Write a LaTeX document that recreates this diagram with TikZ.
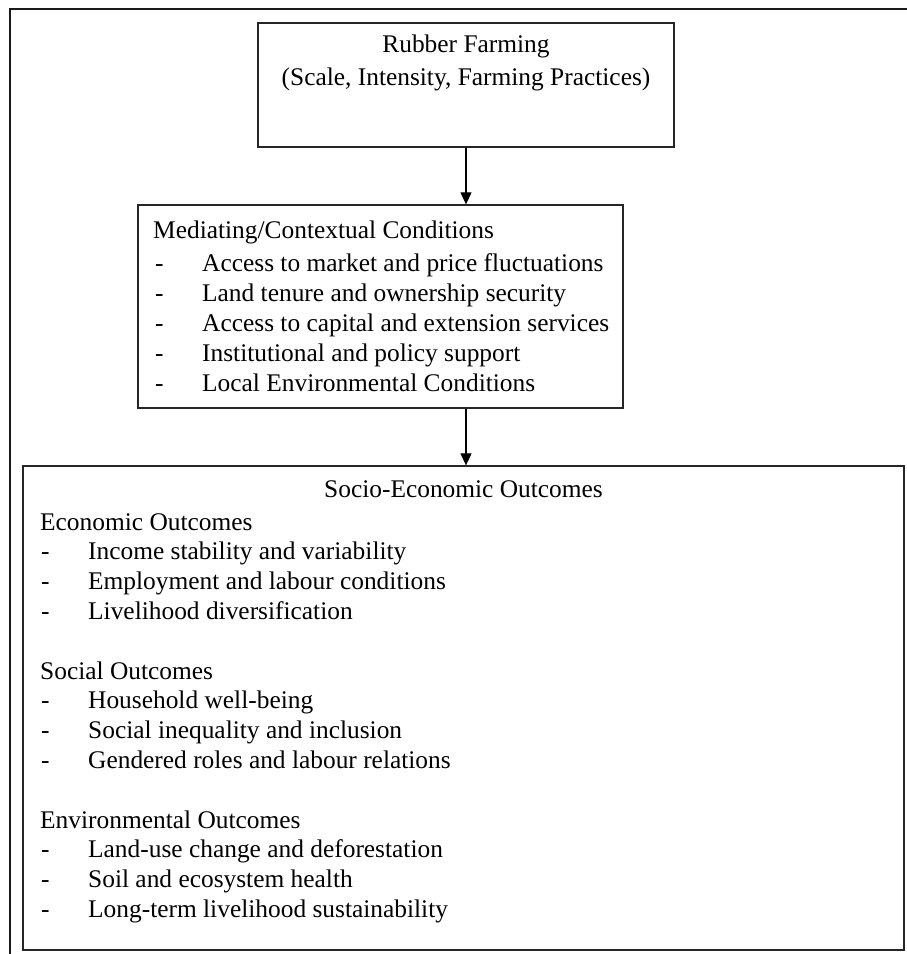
\documentclass[tikz,border=0pt]{standalone}
\usepackage{fontspec}
\setmainfont{Liberation Serif}
\usetikzlibrary{arrows.meta}
\begin{document}
\begin{tikzpicture}[x=1pt,y=-1pt,
  box/.style={draw=black!85,line width=1.3pt,rectangle,inner sep=0pt},
  txt/.style={inner sep=0pt,anchor=base west,font=\fontsize{25.4}{30}\selectfont},
  ctxt/.style={inner sep=0pt,anchor=base,font=\fontsize{25.4}{30}\selectfont},
  conn/.style={line width=1.1pt,-{Triangle[length=12pt,width=11pt]}}]
\useasboundingbox (0,0) rectangle (906,954);
\fill[white] (0,0) rectangle (906,954);
% outer frame (right and bottom edges cut off)
\draw[line width=2pt,black!90] (10,960) -- (10,9) -- (912,9);
% boxes
\node[box,minimum width=416pt,minimum height=124pt] (b1) at (466,85) {};
\node[box,minimum width=485pt,minimum height=203pt] (b2) at (380.5,306.5) {};
\node[box,minimum width=881pt,minimum height=484pt] (b3) at (463.5,708) {};
% connectors
\coordinate (a1) at (b1.south |- b2.north);
\coordinate (s2) at (b1.south |- b2.south);
\coordinate (a2) at (b1.south |- b3.north);
\draw[conn] (b1.south) -- (a1);
\draw[conn] (s2) -- (a2);
% box 1 text
\node[ctxt] (t1a) at (466,52) {Rubber Farming};
\node[ctxt] (t1b) at (466,85) {(Scale, Intensity, Farming Practices)};
% box 2 text
\node[txt] (t2) at (153,238) {Mediating/Contextual Conditions};
\foreach \y/\t [count=\i] in {271/Access to market and price fluctuations,
  301/Land tenure and ownership security,
  331/Access to capital and extension services,
  361/Institutional and policy support,
  391/Local Environmental Conditions}{
  \node[txt] (d2\i) at (155,\y) {-};
  \node[txt] (i2\i) at (202,\y) {\t};
}
% box 3 text
\node[ctxt] (t3) at (463.5,497) {Socio-Economic Outcomes};
\node[txt] (h31) at (40,530) {Economic Outcomes};
\node[txt] (h32) at (40,679) {Social Outcomes};
\node[txt] (h33) at (40,828) {Environmental Outcomes};
\foreach \y/\t [count=\i] in {559.8/Income stability and variability,
  589.6/Employment and labour conditions,
  619.4/Livelihood diversification,
  708.8/Household well-being,
  738.6/Social inequality and inclusion,
  768.4/Gendered roles and labour relations,
  857.8/Land-use change and deforestation,
  887.6/Soil and ecosystem health,
  917.4/Long-term livelihood sustainability}{
  \node[txt] (d3\i) at (41,\y) {-};
  \node[txt] (i3\i) at (88,\y) {\t};
}
\end{tikzpicture}
\end{document}
